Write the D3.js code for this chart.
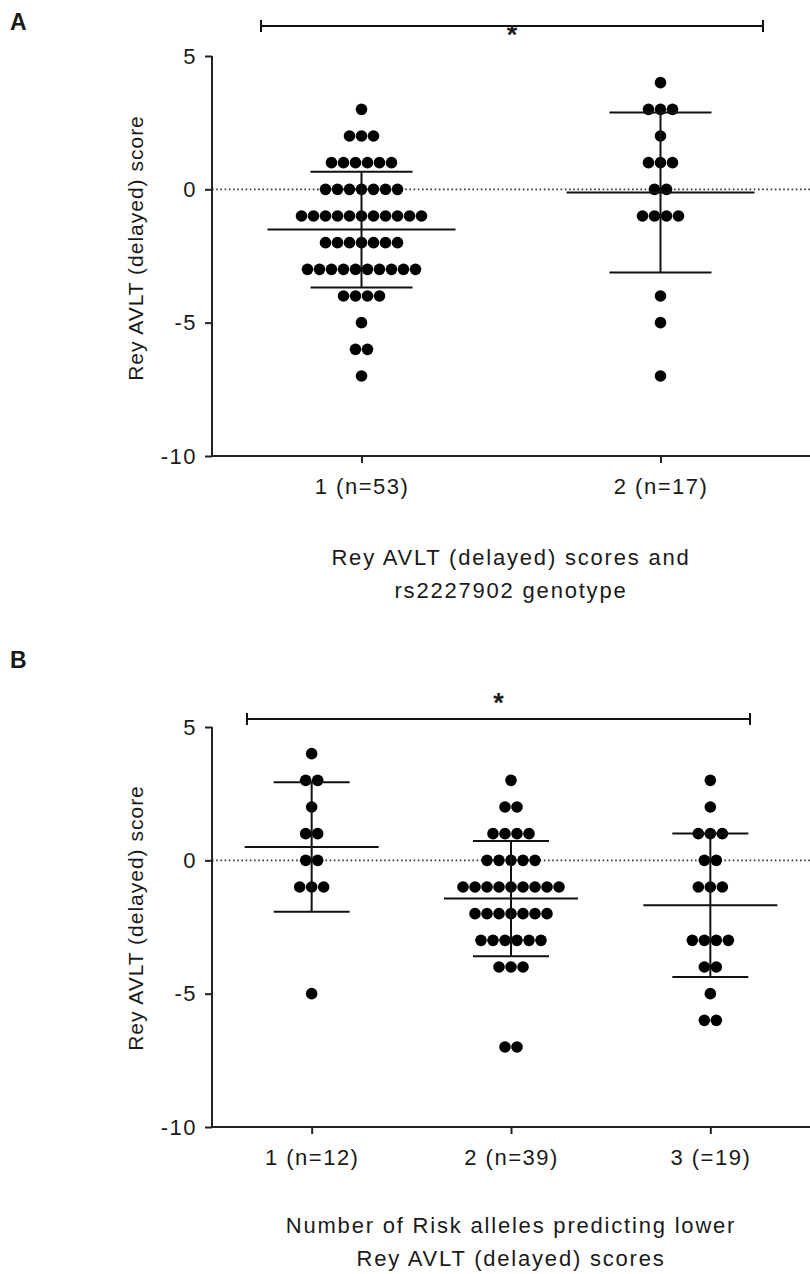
<!DOCTYPE html>
<html lang="en">
<head>
<meta charset="UTF-8">
<title>Rey AVLT delayed scores</title>
<script src="https://d3js.org/d3.v7.min.js"></script>
<style>
  body { margin: 0; background: white; }
  svg { display: block; font-family: "Liberation Sans", Arial, sans-serif; }
  text { fill: #1a1a1a; }
</style>
</head>
<body>
<svg width="810" height="1274"></svg>
<script>
// scores, one value per dot
const scoresA1 = [3, 2,2,2, 1,1,1,1,1,1, 0,0,0,0,0,0,0,
  -1,-1,-1,-1,-1,-1,-1,-1,-1,-1,-1, -2,-2,-2,-2,-2,-2,-2,
  -3,-3,-3,-3,-3,-3,-3,-3,-3,-3, -4,-4,-4,-4, -5, -6,-6, -7];
const scoresA2 = [4, 3,3,3, 2, 1,1,1, 0,0, -1,-1,-1,-1, -4, -5, -7];
const scoresB1 = [4, 3,3, 2, 1,1, 0,0, -1,-1,-1, -5];
const scoresB2 = [3, 2,2, 1,1,1,1, 0,0,0,0,0,
  -1,-1,-1,-1,-1,-1,-1,-1,-1, -2,-2,-2,-2,-2,-2,-2,
  -3,-3,-3,-3,-3,-3, -4,-4,-4, -7,-7];
const scoresB3 = [3, 2, 1,1,1, 0,0, -1,-1,-1, -3,-3,-3,-3, -4,-4, -5, -6,-6];

const labelsA = ["1 (n=53)", "2 (n=17)"];
const labelsB = ["1 (n=12)", "2 (n=39)", "3 (=19)"];
const yTicks = [5, 0, -5, -10];
const yTitle = "Rey AVLT (delayed) score";
const xTitleA = ["Rey AVLT (delayed) scores and", "rs2227902 genotype"];
const xTitleB = ["Number of Risk alleles predicting lower", "Rey AVLT (delayed) scores"];

const svg = d3.select("svg");

function drawPanel(p) {
    const g = svg.append("g");
    const y = d3.scaleLinear().domain([-10, 5]).range([p.bottom, p.top]);
    const x = d3.scalePoint().domain(p.labels).range([212, 810]).padding(0.5);

    // panel letter
    g.append("text").attr("x", 10).attr("y", p.letterY)
        .attr("font-size", 23).attr("font-weight", "bold").text(p.letter);

    // zero reference line
    g.append("line")
        .attr("x1", 212).attr("x2", 810)
        .attr("y1", y(0)).attr("y2", y(0))
        .attr("stroke", "#333").attr("stroke-width", 1.6)
        .attr("stroke-dasharray", "1.6,2.6");

    // axes
    const yAxis = g.append("g").attr("transform", "translate(212,0)")
        .call(d3.axisLeft(y).tickValues(yTicks).tickSize(7).tickPadding(8).tickFormat(d => String(d)));
    const xAxis = g.append("g").attr("transform", `translate(0,${p.bottom})`)
        .call(d3.axisBottom(x).tickSize(7).tickPadding(15));
    [yAxis, xAxis].forEach(a => {
        a.select(".domain").attr("stroke", "#222").attr("stroke-width", 2);
        a.selectAll(".tick line").attr("stroke", "#222").attr("stroke-width", 2);
        a.selectAll(".tick text").attr("font-size", 22).attr("fill", "#1a1a1a")
            .attr("letter-spacing", 1.5)
            .attr("font-family", "Liberation Sans, Arial, sans-serif");
    });
    xAxis.select(".domain").attr("d", `M212,0H810`);
    yAxis.select(".domain").attr("d", `M0,${p.top}V${p.bottom}`);

    // dots, one row per score value, spread sideways
    p.groups.forEach((scores, i) => {
        const cx = x(p.labels[i]);
        const rows = d3.groups(scores, d => d);
        rows.forEach(([val, list]) => {
            const n = list.length;
            g.selectAll(null).data(list).enter().append("circle")
                .attr("cx", (d, j) => cx + (j - (n - 1) / 2) * 12)
                .attr("cy", y(val))
                .attr("r", 5.8)
                .attr("fill", "black");
        });

        // mean and SD
        const m = d3.mean(scores), sd = d3.deviation(scores);
        const lg = g.append("g").attr("stroke", "#111").attr("stroke-width", 2);
        lg.append("line").attr("x1", cx - p.meanHalf).attr("x2", cx + p.meanHalf)
            .attr("y1", y(m)).attr("y2", y(m));
        lg.append("line").attr("x1", cx).attr("x2", cx)
            .attr("y1", y(m + sd)).attr("y2", y(m - sd));
        [m + sd, m - sd].forEach(v => {
            lg.append("line").attr("x1", cx - p.capHalf).attr("x2", cx + p.capHalf)
                .attr("y1", y(v)).attr("y2", y(v));
        });
    });

    // significance bracket
    const bg = g.append("g").attr("stroke", "#111").attr("stroke-width", 2);
    bg.append("line").attr("x1", p.bracket[0]).attr("x2", p.bracket[1])
        .attr("y1", p.bracketY).attr("y2", p.bracketY);
    p.bracket.forEach(bx => {
        bg.append("line").attr("x1", bx).attr("x2", bx)
            .attr("y1", p.bracketY - 6).attr("y2", p.bracketY + 6);
    });
    g.append("text").attr("x", (p.bracket[0] + p.bracket[1]) / 2).attr("y", p.starY)
        .attr("text-anchor", "middle").attr("font-size", 27).attr("font-weight", "bold").text("*");

    // axis titles
    g.append("text")
        .attr("transform", `translate(143,${p.yTitleC}) rotate(-90)`)
        .attr("text-anchor", "middle").attr("font-size", 21).attr("letter-spacing", 1)
        .text(yTitle);
    p.xTitle.forEach((t, k) => {
        g.append("text").attr("x", 511).attr("y", p.xTitleY + k * 33)
            .attr("text-anchor", "middle").attr("font-size", 22).attr("letter-spacing", 1.8)
            .text(t);
    });
}

drawPanel({
    letter: "A", letterY: 30, top: 56, bottom: 456,
    labels: labelsA, groups: [scoresA1, scoresA2],
    meanHalf: 94, capHalf: 51,
    bracket: [261, 763], bracketY: 26, starY: 44,
    yTitleC: 248, xTitle: xTitleA, xTitleY: 565
});

drawPanel({
    letter: "B", letterY: 668, top: 727, bottom: 1127,
    labels: labelsB, groups: [scoresB1, scoresB2, scoresB3],
    meanHalf: 67, capHalf: 38,
    bracket: [247, 750], bracketY: 719, starY: 712,
    yTitleC: 918, xTitle: xTitleB, xTitleY: 1233
});
</script>
</body>
</html>
